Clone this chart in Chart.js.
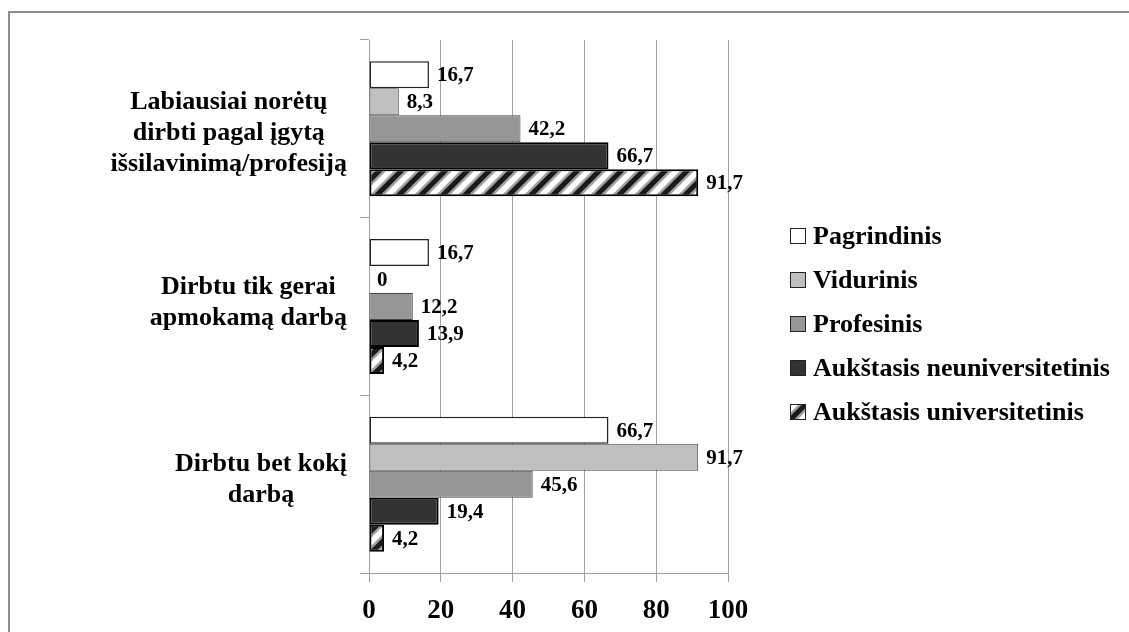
<!DOCTYPE html>
<html lang="lt">
<head>
    <meta charset="UTF-8">
    <title>Darbo pasirinkimas pagal išsilavinimą</title>
    <script src="https://cdn.jsdelivr.net/npm/chart.js"></script>
    <style>
        body {
            margin: 0;
            background: #fff;
        }

        .chart-box {
            position: relative;
            width: 1129px;
            height: 632px;
        }
    </style>
</head>
<body>
    <div class="chart-box">
        <canvas id="jobChart"></canvas>
    </div>

    <script>
        // Data (percent)
        const categories = [
            ['Labiausiai norėtų', 'dirbti pagal įgytą', 'išsilavinimą/profesiją'],
            ['Dirbtu tik gerai', 'apmokamą darbą'],
            ['Dirbtu bet kokį', 'darbą']
        ];
        const seriesNames = ['Pagrindinis', 'Vidurinis', 'Profesinis', 'Aukštasis neuniversitetinis', 'Aukštasis universitetinis'];
        const pagrindinis = [16.7, 16.7, 66.7];
        const vidurinis = [8.3, 0, 91.7];
        const profesinis = [42.2, 12.2, 45.6];
        const aukstNeuniv = [66.7, 13.9, 19.4];
        const aukstUniv = [91.7, 4.2, 4.2];
        const xTickStep = 20;
        const xMax = 100;

        const serif = '"Liberation Serif", "Times New Roman", serif';
        const gridGray = '#a0a0a0';

        // diagonal hatch for the last series
        function hatch() {
            const s = 22;
            const c = document.createElement('canvas');
            c.width = s;
            c.height = s;
            const g = c.getContext('2d');
            g.fillStyle = '#fff';
            g.fillRect(0, 0, s, s);
            [[10, '#a0a0a0'], [5, '#1a1a1a']].forEach(([w, col]) => {
                g.strokeStyle = col;
                g.lineWidth = w;
                g.beginPath();
                [0, s, 2 * s].forEach(k => {
                    g.moveTo(-3, k + 3);
                    g.lineTo(s + 3, k - s - 3);
                });
                g.stroke();
            });
            return g.createPattern(c, 'repeat');
        }

        const frame = {
            id: 'frame',
            beforeDraw(chart) {
                const ctx = chart.ctx;
                ctx.save();
                ctx.fillStyle = '#8e8e8e';
                ctx.fillRect(8, 11, chart.width, 2);
                ctx.fillRect(8, 11, 2, chart.height);
                ctx.restore();
            }
        };

        const valueLabels = {
            id: 'valueLabels',
            afterDatasetsDraw(chart) {
                const ctx = chart.ctx;
                ctx.save();
                ctx.font = 'bold 21px ' + serif;
                ctx.fillStyle = '#000';
                ctx.textBaseline = 'middle';
                chart.data.datasets.forEach((ds, i) => {
                    chart.getDatasetMeta(i).data.forEach((bar, j) => {
                        ctx.fillText(String(ds.data[j]).replace('.', ','), bar.x + 8, bar.y + 1);
                    });
                });
                ctx.restore();
            }
        };

        // Excel-style labels: block right-aligned, lines centered inside the block
        const categoryLabels = {
            id: 'categoryLabels',
            afterDraw(chart) {
                const ctx = chart.ctx;
                const y = chart.scales.y;
                ctx.save();
                ctx.font = 'bold 26px ' + serif;
                ctx.fillStyle = '#000';
                ctx.textAlign = 'center';
                ctx.textBaseline = 'middle';
                categories.forEach((lines, i) => {
                    const w = Math.max(...lines.map(l => ctx.measureText(l).width));
                    const cx = y.right - 22 - w / 2;
                    const cy = y.getPixelForTick(i) + (lines.length > 2 ? 4 : -4);
                    lines.forEach((l, k) => {
                        ctx.fillText(l, cx, cy + (k - (lines.length - 1) / 2) * 31);
                    });
                });
                ctx.restore();
            }
        };

        const sideLegend = {
            id: 'sideLegend',
            afterDraw(chart) {
                const ctx = chart.ctx;
                const x0 = chart.chartArea.right + 62;
                const top = 236;
                ctx.save();
                ctx.font = 'bold 26px ' + serif;
                ctx.textBaseline = 'middle';
                chart.data.datasets.forEach((ds, i) => {
                    const cy = top + i * 44;
                    ctx.fillStyle = ds.backgroundColor;
                    ctx.fillRect(x0, cy - 8, 16, 16);
                    ctx.strokeStyle = '#222';
                    ctx.lineWidth = 1;
                    ctx.strokeRect(x0 + 0.5, cy - 7.5, 15, 15);
                    ctx.fillStyle = '#000';
                    ctx.fillText(ds.label, x0 + 23, cy + 1);
                });
                ctx.restore();
            }
        };

        const fills = ['#ffffff', '#c0c0c0', '#969696', '#333333', hatch()];
        const borders = ['#222', '#444', '#444', '#000', '#000'];
        const borderWidths = [1.5, 1, 1, 2, 2];
        const values = [pagrindinis, vidurinis, profesinis, aukstNeuniv, aukstUniv];

        new Chart(document.getElementById('jobChart'), {
            type: 'bar',
            data: {
                labels: categories,
                datasets: seriesNames.map((name, i) => ({
                    label: name,
                    data: values[i],
                    backgroundColor: fills[i],
                    borderColor: borders[i],
                    borderWidth: borderWidths[i],
                    borderSkipped: false
                }))
            },
            options: {
                indexAxis: 'y',
                responsive: true,
                maintainAspectRatio: false,
                animation: false,
                layout: { padding: { top: 40, right: 401, left: 0, bottom: 0 } },
                datasets: { bar: { barPercentage: 1, categoryPercentage: 0.76 } },
                plugins: {
                    legend: { display: false },
                    tooltip: { enabled: false }
                },
                scales: {
                    x: {
                        min: 0,
                        max: xMax,
                        ticks: {
                            stepSize: xTickStep,
                            color: '#000',
                            padding: 13,
                            font: { family: serif, size: 27, weight: 'bold' }
                        },
                        grid: { color: gridGray, tickLength: 9 },
                        border: { color: gridGray },
                        afterFit: s => { s.height = 59; }
                    },
                    y: {
                        ticks: { display: false },
                        grid: { drawOnChartArea: false, offset: true, tickLength: 9, color: gridGray },
                        border: { color: gridGray },
                        afterFit: s => { s.width = 369; }
                    }
                }
            },
            plugins: [frame, valueLabels, categoryLabels, sideLegend]
        });
    </script>
</body>
</html>
